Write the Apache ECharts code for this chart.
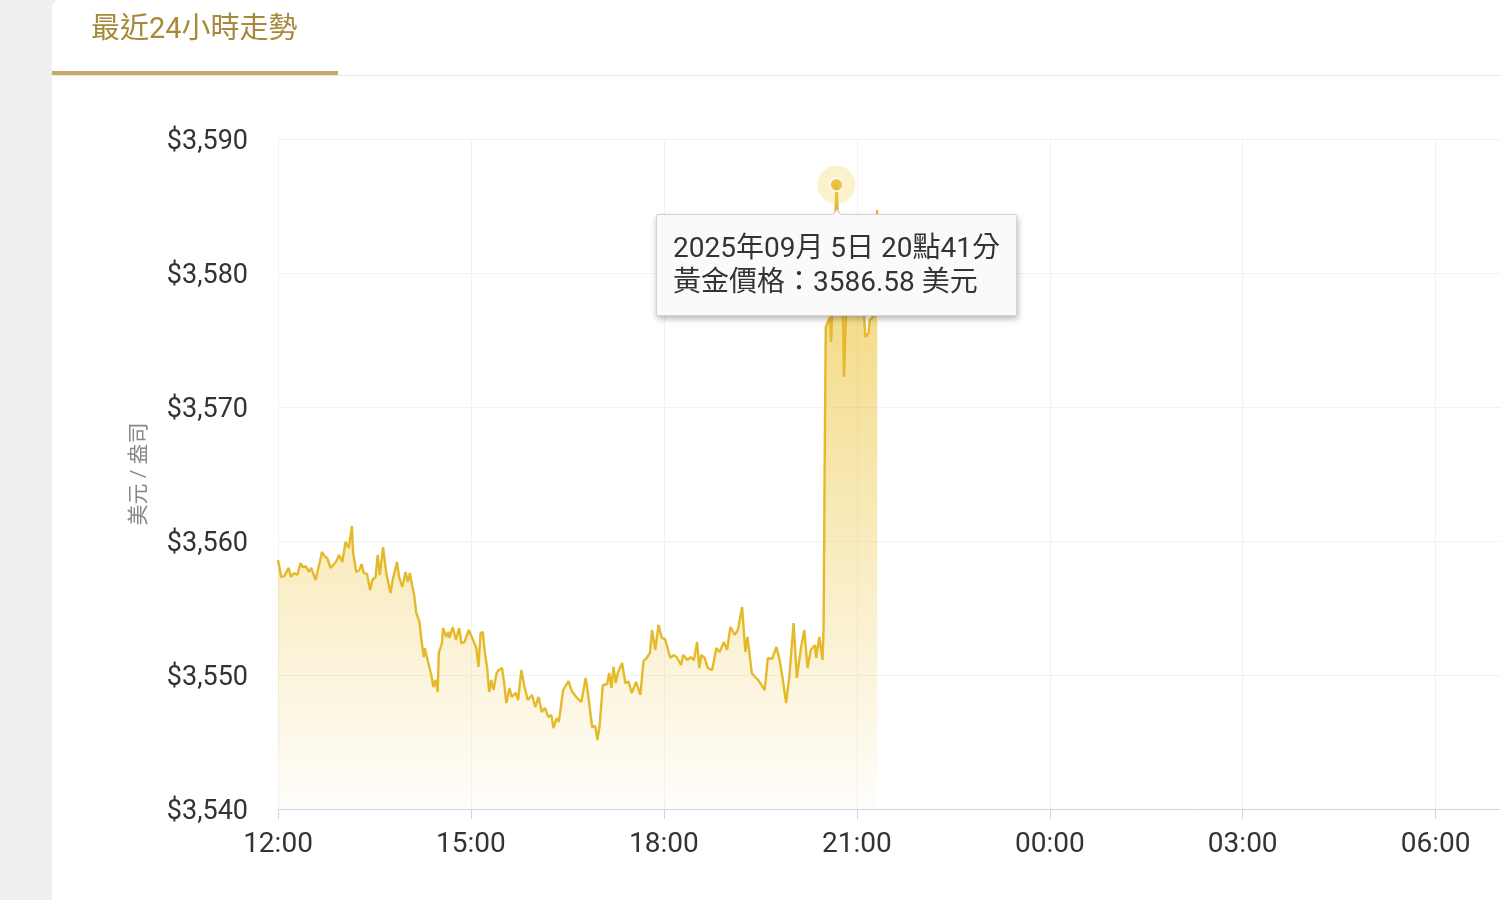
<!DOCTYPE html>
<html>
<head>
<meta charset="utf-8">
<script src="https://cdn.jsdelivr.net/npm/echarts@6/dist/echarts.min.js"></script>
<style>
  html, body { margin: 0; padding: 0; background: #efefef; }
  #card { position: absolute; left: 52px; top: 0; width: 1448px; height: 900px; background: #fff; border-top-left-radius: 8px; }
  #c { position: absolute; left: 0; top: 0; width: 1500px; height: 900px; }
</style>
</head>
<body>
<div id="card"></div>
<div id="c"></div>
<script>
// ---- data ----
const dateLabel = '2025年09月 5日';
const times = [
  '12:00','12:03','12:06','12:10','12:12','12:15','12:18','12:21','12:23','12:26','12:29','12:31','12:35','12:39','12:41','12:44','12:46','12:49','12:54','12:57',
  '13:00','13:03','13:06','13:09','13:10','13:13','13:16','13:18','13:20','13:23','13:26','13:28','13:31','13:33','13:35','13:38','13:41','13:45','13:47','13:51','13:53','13:56','13:59',
  '14:01','14:03','14:05','14:07','14:09','14:12','14:14','14:16','14:17','14:20','14:23','14:25','14:27','14:29','14:30','14:33','14:34','14:37','14:39','14:40','14:43','14:46','14:49','14:51','14:54','14:58',
  '15:02','15:05','15:07','15:09','15:11','15:13','15:15','15:17','15:19','15:21','15:24','15:26','15:29','15:31','15:33','15:36','15:38','15:42','15:44','15:47','15:50','15:53','15:57',
  '16:00','16:03','16:06','16:09','16:12','16:15','16:17','16:20','16:22','16:26','16:31','16:34','16:39','16:43','16:47','16:49','16:53','16:56','16:58',
  '17:00','17:03','17:07','17:09','17:11','17:13','17:15','17:17','17:21','17:24','17:27','17:30','17:34','17:38','17:41','17:44','17:47','17:49','17:52','17:55','17:58',
  '18:01','18:06','18:09','18:12','18:16','18:18','18:22','18:25','18:28','18:31','18:33','18:35','18:38','18:41','18:45','18:49','18:52','18:56','18:59',
  '19:02','19:06','19:09','19:13','19:16','19:18','19:22','19:25','19:28','19:34','19:37','19:41','19:45','19:48','19:51','19:54','19:57',
  '20:01','20:04','20:08','20:11','20:14','20:17','20:21','20:22','20:25','20:28','20:29','20:30','20:31','20:35','20:36','20:38','20:41','20:44','20:47','20:48','20:50','20:52','20:55','20:58',
  '21:01','21:04','21:07','21:08','21:11','21:12','21:15','21:17','21:19'
];
const prices = [
  3558.58,3557.31,3557.40,3557.99,3557.31,3557.61,3557.46,3558.36,3558.06,3558.10,3557.69,3557.99,3557.09,3558.43,3559.18,3558.81,3558.73,3557.99,3558.43,3558.96,
  3558.43,3559.93,3559.48,3561.12,3559.18,3557.69,3557.84,3558.28,3557.61,3557.55,3556.34,3557.09,3557.31,3558.96,3557.46,3559.55,3557.61,3556.12,3557.09,3558.43,3557.31,3556.57,3557.69,
  3556.94,3557.61,3556.72,3555.97,3554.63,3553.96,3552.46,3551.34,3552.01,3550.97,3550.00,3549.10,3549.63,3548.73,3551.64,3552.39,3553.51,3552.84,3553.21,3552.76,3553.58,3552.61,3553.51,3552.39,3552.46,3553.36,
  3552.61,3552.01,3550.60,3553.13,3553.21,3551.64,3550.60,3548.73,3549.63,3548.88,3550.15,3550.37,3550.52,3549.40,3547.91,3549.03,3548.36,3548.66,3548.13,3550.37,3549.10,3548.13,3548.51,
  3547.61,3548.36,3547.24,3547.54,3546.87,3547.01,3546.04,3546.79,3546.49,3548.88,3549.55,3548.81,3548.28,3547.99,3549.78,3548.73,3546.12,3546.20,3545.15,
  3546.19,3549.25,3549.33,3550.15,3549.03,3550.60,3549.40,3550.15,3550.90,3549.40,3549.50,3548.66,3549.48,3548.51,3551.04,3551.27,3551.64,3553.36,3551.87,3553.73,3552.76,
  3552.70,3551.27,3551.49,3551.34,3550.75,3551.49,3551.12,3551.34,3551.12,3552.46,3550.52,3551.49,3551.27,3550.52,3550.37,3552.01,3551.72,3552.46,3551.87,
  3553.58,3552.99,3553.36,3555.07,3551.72,3552.84,3550.15,3549.85,3549.63,3548.88,3551.27,3551.20,3552.09,3551.12,3549.63,3547.91,3549.85,
  3553.88,3549.78,3552.09,3553.36,3550.52,3551.87,3552.24,3551.27,3552.84,3551.12,3553.58,3566.04,3575.97,3576.72,3574.85,3579.70,3586.58,3580.97,3577.24,3572.24,3577.24,3583.43,3579.70,3577.24,
  3579.70,3580.22,3576.49,3575.22,3575.52,3576.49,3576.72,3580.97,3584.70
];
const highlightTime = '20:41';
const xTickLabels = ['12:00','15:00','18:00','21:00','00:00','03:00','06:00'];
const yMin = 3540, yMax = 3590, yStep = 10;

// ---- helpers ----
const startHour = 12;
function toMin(t) {
  const [h, m] = t.split(':').map(Number);
  let v = (h - startHour) * 60 + m;
  if (v < 0) v += 1440;
  return v;
}
function pad(n) { return (n < 10 ? '0' : '') + n; }
function minToClock(v) {
  const total = (startHour * 60 + v) % 1440;
  return pad(Math.floor(total / 60)) + ':' + pad(total % 60);
}
const seriesData = times.map((t, i) => [toMin(t), prices[i]]);
const hiIdx = times.indexOf(highlightTime);
const hiPoint = [toMin(highlightTime), prices[hiIdx]];

const FONT = 'Roboto, "Noto Sans CJK TC", "Noto Sans", sans-serif';
const chart = echarts.init(document.getElementById('c'), null, { renderer: 'canvas' });

const option = {
  animation: false,
  backgroundColor: 'transparent',
  title: {
    text: '最近24小時走勢',
    left: 91, top: 16, padding: 0,
    textStyle: { color: '#a8893a', fontSize: 29, fontWeight: 'normal', fontFamily: FONT }
  },
  graphic: [
    { type: 'line', shape: { x1: 52, y1: 75.5, x2: 1500, y2: 75.5 }, style: { stroke: '#e8e8e8', lineWidth: 1 } },
    { type: 'rect', shape: { x: 52, y: 71, width: 286, height: 4 }, style: { fill: '#c8a862' } }
  ],
  grid: { left: 278, right: 0, top: 139, bottom: 91 },
  xAxis: {
    type: 'value', min: 0, max: 1140, interval: 180,
    axisLine: { show: true, lineStyle: { color: '#ccd6eb', width: 1 } },
    axisTick: { show: true, length: 10, lineStyle: { color: '#ccd6eb' } },
    axisLabel: {
      formatter: v => { const s = minToClock(v); return xTickLabels.indexOf(s) >= 0 ? s : ''; },
      fontSize: 28, color: '#333', margin: 22, fontFamily: FONT, showMaxLabel: false
    },
    splitLine: { show: true, lineStyle: { color: '#f2f2f2', width: 1 } }
  },
  yAxis: {
    type: 'value', min: yMin, max: yMax, interval: yStep,
    name: '美元 / 盎司', nameLocation: 'middle', nameGap: 128, nameRotate: 90,
    nameTextStyle: { color: '#888', fontSize: 21, fontFamily: FONT },
    axisLine: { show: false }, axisTick: { show: false },
    axisLabel: {
      formatter: v => '{p|$' + v.toLocaleString('en-US') + '}',
      margin: 30,
      rich: { p: { fontSize: 27, color: '#333', fontFamily: FONT, padding: [6, 0, 0, 0] } }
    },
    splitLine: { show: true, lineStyle: { color: '#f2f2f2', width: 1 } }
  },
  tooltip: {
    trigger: 'item', position: 'bottom', alwaysShowContent: true, confine: false,
    backgroundColor: '#fafafa', borderColor: '#d4d4d4', borderWidth: 1, padding: [16, 16],
    textStyle: { color: '#333', fontSize: 28, lineHeight: 34, fontFamily: FONT },
    extraCssText: 'box-shadow: 1px 3px 6px rgba(0,0,0,0.28); border-radius: 2px;',
    formatter: p => {
      const clock = minToClock(p.data[0]).split(':');
      return dateLabel + ' ' + Number(clock[0]) + '點' + clock[1] + '分<br/>黃金價格：' + p.data[1].toFixed(2) + ' 美元';
    }
  },
  series: [
    {
      type: 'line', data: seriesData, showSymbol: false, symbol: 'none',
      lineStyle: { color: '#e6b92a', width: 2.4 },
      areaStyle: {
        color: { type: 'linear', x: 0, y: 0, x2: 0, y2: 1, colorStops: [
          { offset: 0, color: 'rgba(234,190,40,0.97)' },
          { offset: 0.5, color: 'rgba(234,190,40,0.5)' },
          { offset: 1, color: 'rgba(234,190,40,0.03)' }
        ] }
      },
      tooltip: { show: false }, silent: true, z: 2
    },
    {
      type: 'scatter', data: [hiPoint], symbolSize: 38,
      itemStyle: { color: 'rgba(242,210,95,0.4)' }, emphasis: { disabled: true }, z: 3
    },
    {
      type: 'scatter', data: [hiPoint], symbolSize: 13,
      itemStyle: { color: '#e6b622', borderColor: '#fff', borderWidth: 2 },
      emphasis: { disabled: true }, tooltip: { show: false }, z: 4
    }
  ]
};
chart.setOption(option);
chart.dispatchAction({ type: 'showTip', seriesIndex: 1, dataIndex: 0 });
</script>
</body>
</html>
